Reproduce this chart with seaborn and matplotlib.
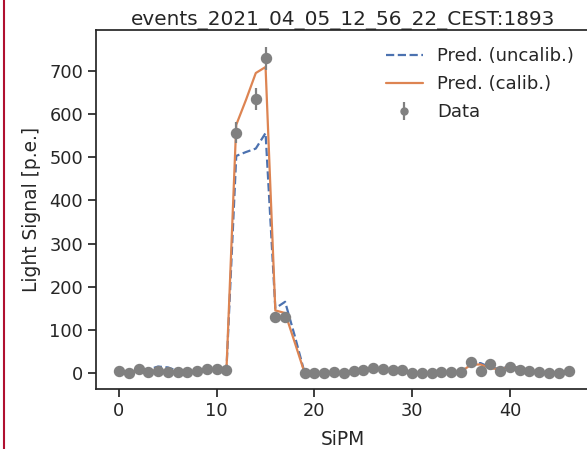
import numpy as np
import pandas as pd
import matplotlib
matplotlib.use("Agg")
import matplotlib.pyplot as plt
from matplotlib.lines import Line2D
import seaborn as sns

# ---------------- data ----------------
sipm = list(range(47))
pred_uncalib = [5, 3, 6, 8, 15, 13, 5, 3, 5, 8, 9, 8,
                503, 512, 520, 556, 150, 165, 85, 0,
                0, 0, 2, 1, 4, 6, 10, 9, 7, 6, 1, 0, 0, 2, 3, 3,
                21, 23, 13, 9, 16, 12, 6, 3, 1, 1, 4]
pred_calib = [5, 2, 6, 4, 6, 5, 3, 2, 5, 8, 9, 8,
              575, 633, 695, 709, 145, 139, 70, 0,
              0, 0, 2, 1, 4, 6, 10, 9, 7, 6, 1, 0, 0, 2, 3, 3,
              19, 20, 11, 9, 15, 11, 5, 3, 1, 1, 4]
data_x = [0, 1, 2, 3, 4, 5, 6, 7, 8, 9, 10, 11, 12, 14, 15, 16, 17,
          19, 20, 21, 22, 23, 24, 25, 26, 27, 28, 29, 30, 31, 32, 33, 34, 35,
          36, 37, 38, 39, 40, 41, 42, 43, 44, 45, 46]
data_y = [5, 0, 9, 2, 5, 2, 2, 2, 5, 9, 9, 8, 557, 635, 729, 129, 129,
          0, 0, 0, 3, 0, 5, 6, 12, 9, 7, 7, 0, 0, 0, 3, 3, 3,
          26, 5, 21, 5, 15, 7, 5, 3, 0, 0, 5]
data_err = [2.2, 1.0, 3.0, 1.4, 2.2, 1.4, 1.4, 1.4, 2.2, 3.0, 3.0, 2.8, 23.6, 25.2, 27.0, 11.4, 11.4,
            1.0, 1.0, 1.0, 1.7, 1.0, 2.2, 2.4, 3.5, 3.0, 2.6, 2.6, 1.0, 1.0, 1.0, 1.7, 1.7, 1.7,
            5.1, 2.2, 4.6, 2.2, 3.9, 2.6, 2.2, 1.7, 1.0, 1.0, 2.2]
x_ticks = [0, 10, 20, 30, 40]
y_ticks = [0, 100, 200, 300, 400, 500, 600, 700]
title = "events_2021_04_05_12_56_22_CEST:1893"

# ---------------- style ----------------
sns.set_theme(style="ticks", context="notebook")
plt.rcParams["font.family"] = ["DejaVu Sans"]
pal = sns.color_palette("deep")

W, H = 587, 449
L, T, R, B = 95.7, 30.3, 591, 389
fig = plt.figure(figsize=(W / 100, H / 100), dpi=100)
ax = fig.add_axes([L / W, 1 - B / H, (R - L) / W, (B - T) / H])

df = pd.DataFrame({"SiPM": sipm, "uncalib": pred_uncalib, "calib": pred_calib})
sns.lineplot(data=df, x="SiPM", y="uncalib", ax=ax, color=pal[0], lw=1.6,
             linestyle="--", label="Pred. (uncalib.)")
sns.lineplot(data=df, x="SiPM", y="calib", ax=ax, color=pal[1], lw=1.6,
             label="Pred. (calib.)")
ax.errorbar(data_x, data_y, yerr=data_err, fmt="o", color="grey", ms=7.2,
            elinewidth=1.6, label="Data", zorder=3)

ax.set_xlim(-2.38, 48.3)
ax.set_ylim(-37, 794)
ax.set_xticks(x_ticks)
ax.set_yticks(y_ticks)
ax.tick_params(axis="both", labelsize=12.8, length=5.5, width=1.25, color=".15")
for s in ax.spines.values():
    s.set_linewidth(1.25)
    s.set_color(".15")
ax.set_xlabel("SiPM", fontsize=13.4, labelpad=7.5)
ax.set_ylabel("Light Signal [p.e.]", fontsize=13.4, labelpad=6)
ax.set_title(title, fontsize=14.4, pad=3)

ax.legend(loc="upper right", frameon=False, fontsize=13, handlelength=2.1,
          borderaxespad=0.55, labelspacing=0.55, markerscale=0.7,
          handletextpad=0.75)

fig.add_artist(Line2D([4 / W, 4 / W], [0, 1], color="#b01030", lw=1.5))

fig.savefig("out.png", dpi=100)
